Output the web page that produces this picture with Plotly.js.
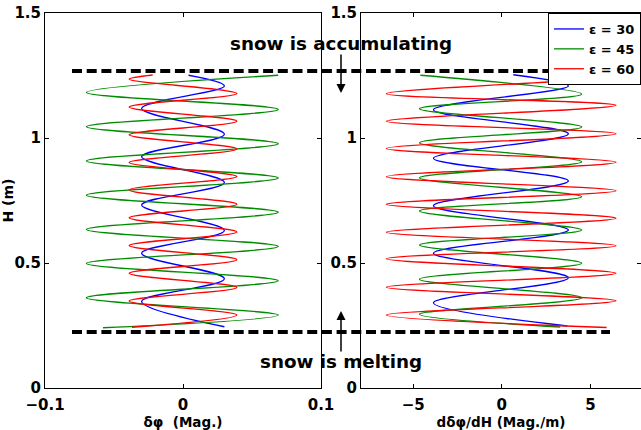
<!DOCTYPE html>
<html>
<head>
<meta charset="utf-8">
<script src="https://cdn.plot.ly/plotly-3.0.1.min.js"></script>
<style>html,body{margin:0;padding:0;background:#fff}</style>
</head>
<body>
<div id="chart" style="width:641px;height:430px"></div>
<script>
// Snow-height profiles: perturbation δφ (left) and its gradient dδφ/dH (right)
// for three incidence angles ε. Points are the turning points of each trace.

const seriesNames = ['\u03b5 = 30', '\u03b5 = 45', '\u03b5 = 60'];
const seriesColors = ['rgb(0,0,255)', 'rgb(0,140,0)', 'rgb(255,0,0)'];

// δφ (Mag.) versus H (m)
const dphi30_H = [1.251, 1.208, 1.118, 1.015, 0.925, 0.822, 0.732, 0.630, 0.539, 0.437, 0.346, 0.245];
const dphi30   = [0.004, 0.030, -0.030, 0.030, -0.030, 0.030, -0.030, 0.030, -0.030, 0.030, -0.030, 0.030];

const dphi45_H = [1.251, 1.182, 1.114, 1.045, 0.977, 0.908, 0.840, 0.771, 0.703, 0.634, 0.566, 0.498, 0.429, 0.361, 0.292, 0.241];
const dphi45   = [0.069, -0.070, 0.069, -0.070, 0.069, -0.070, 0.069, -0.070, 0.069, -0.070, 0.069, -0.070, 0.069, -0.070, 0.069, -0.058];

const dphi60_H = [1.252, 1.235, 1.178, 1.124, 1.067, 1.013, 0.956, 0.902, 0.846, 0.792, 0.735, 0.681, 0.624, 0.570, 0.513, 0.459, 0.402, 0.348, 0.292, 0.243];
const dphi60   = [-0.022, -0.039, 0.039, -0.039, 0.039, -0.039, 0.039, -0.039, 0.039, -0.039, 0.039, -0.039, 0.039, -0.039, 0.039, -0.039, 0.039, -0.039, 0.039, -0.037];

// dδφ/dH (Mag./m) versus H (m)
const grad30_H = [1.253, 1.208, 1.113, 1.017, 0.919, 0.828, 0.729, 0.632, 0.539, 0.441, 0.341, 0.248];
const grad30   = [0.65, 3.76, -3.86, 3.76, -3.86, 3.76, -3.86, 3.76, -3.86, 3.76, -3.86, 3.70];

const grad45_H = [1.251, 1.175, 1.117, 1.044, 0.981, 0.905, 0.841, 0.765, 0.708, 0.632, 0.572, 0.499, 0.435, 0.361, 0.295, 0.244];
const grad45   = [-4.6, 4.51, -4.65, 4.51, -4.65, 4.51, -4.65, 4.51, -4.65, 4.51, -4.65, 4.51, -4.65, 4.51, -4.65, 3.3];

const grad60_H = [1.253, 1.244, 1.177, 1.131, 1.067, 1.017, 0.958, 0.903, 0.845, 0.789, 0.735, 0.679, 0.623, 0.569, 0.517, 0.459, 0.403, 0.349, 0.292, 0.242];
const grad60   = [2.9, 6.45, -6.52, 6.45, -6.52, 6.45, -6.52, 6.45, -6.52, 6.45, -6.52, 6.45, -6.52, 6.45, -6.52, 6.45, -6.52, 6.45, -6.52, 5.92];

// Snow surface limits (m)
const accumulationH = 1.268;
const meltingH = 0.224;

const yTicks = [0, 0.5, 1, 1.5];
const xTicksLeft = [-0.1, 0, 0.1];
const xTicksRight = [-5, 0, 5];

const boldFont = (size) => ({family: 'DejaVu Sans', size: size, color: '#000', weight: 'bold'});

const leftSets = [[dphi30, dphi30_H], [dphi45, dphi45_H], [dphi60, dphi60_H]];
const rightSets = [[grad30, grad30_H], [grad45, grad45_H], [grad60, grad60_H]];

const traces = [];
leftSets.forEach(([x, y], i) => traces.push({
  type: 'scatter', mode: 'lines', x: x, y: y, xaxis: 'x', yaxis: 'y',
  name: seriesNames[i], showlegend: true,
  line: {color: seriesColors[i], width: 1.3, shape: 'spline', smoothing: 1}
}));
rightSets.forEach(([x, y], i) => traces.push({
  type: 'scatter', mode: 'lines', x: x, y: y, xaxis: 'x2', yaxis: 'y2',
  name: seriesNames[i], showlegend: false,
  line: {color: seriesColors[i], width: 1.3, shape: 'spline', smoothing: 1}
}));

const axisCommon = {
  showline: true, linecolor: '#000', linewidth: 1, mirror: 'ticks',
  ticks: 'inside', ticklen: 4, tickcolor: '#000', tickwidth: 1,
  showgrid: false, zeroline: false, tickfont: boldFont(15), fixedrange: true
};

const L = 45, R = 0, T = 13, B = 42, W = 641, Hpx = 430;
const plotW = W - L - R;
const px = (p) => (p - L) / plotW;

const layout = {
  width: W, height: Hpx,
  margin: {l: L, r: R, t: T, b: B},
  paper_bgcolor: '#fff', plot_bgcolor: '#fff',
  showlegend: true,
  xaxis: Object.assign({}, axisCommon, {
    domain: [0, px(321)], range: [-0.1, 0.1], tickvals: xTicksLeft, anchor: 'y',
    ticklabelstandoff: 3,
    title: {text: '\u03b4\u03c6  (Mag.)', font: boldFont(13.5), standoff: 4}
  }),
  yaxis: Object.assign({}, axisCommon, {
    domain: [0, 1], range: [0, 1.5], tickvals: yTicks, anchor: 'x',
    title: {text: 'H (m)', font: boldFont(14), standoff: 2}
  }),
  xaxis2: Object.assign({}, axisCommon, {
    domain: [px(361), 1], range: [-7.95, 7.86], tickvals: xTicksRight, anchor: 'y2',
    ticklabelstandoff: 3,
    title: {text: 'd\u03b4\u03c6/dH (Mag./m)', font: boldFont(13.5), standoff: 4}
  }),
  yaxis2: Object.assign({}, axisCommon, {
    domain: [0, 1], range: [0, 1.5], tickvals: yTicks, anchor: 'x2'
  }),
  legend: {
    x: 1, xanchor: 'right', y: 1, yanchor: 'top',
    bgcolor: '#fff', bordercolor: '#000', borderwidth: 1,
    tracegroupgap: 0, itemwidth: 30,
    font: boldFont(13)
  },
  shapes: [accumulationH, meltingH].map(h => ({
    type: 'line', xref: 'paper', yref: 'y', x0: px(72), x1: px(610), y0: h, y1: h,
    line: {color: '#000', width: 4, dash: '10px,4.7px'}
  })),
  annotations: [
    {xref: 'paper', yref: 'y', x: px(340.5), y: 1.378, text: 'snow is accumulating',
     showarrow: false, font: boldFont(18.3)},
    {xref: 'paper', yref: 'y', x: px(341), y: 0.108, text: 'snow is melting',
     showarrow: false, font: boldFont(18.3)},
    {xref: 'paper', yref: 'y', x: px(341), y: 1.18, text: '', showarrow: true,
     ax: 0, ay: -40, arrowhead: 2, arrowsize: 1.2, arrowwidth: 1.5, arrowcolor: '#000'},
    {xref: 'paper', yref: 'y', x: px(341), y: 0.308, text: '', showarrow: true,
     ax: 0, ay: 42, arrowhead: 2, arrowsize: 1.2, arrowwidth: 1.5, arrowcolor: '#000'}
  ]
};

Plotly.newPlot('chart', traces, layout, {staticPlot: true, displayModeBar: false});
</script>
</body>
</html>
